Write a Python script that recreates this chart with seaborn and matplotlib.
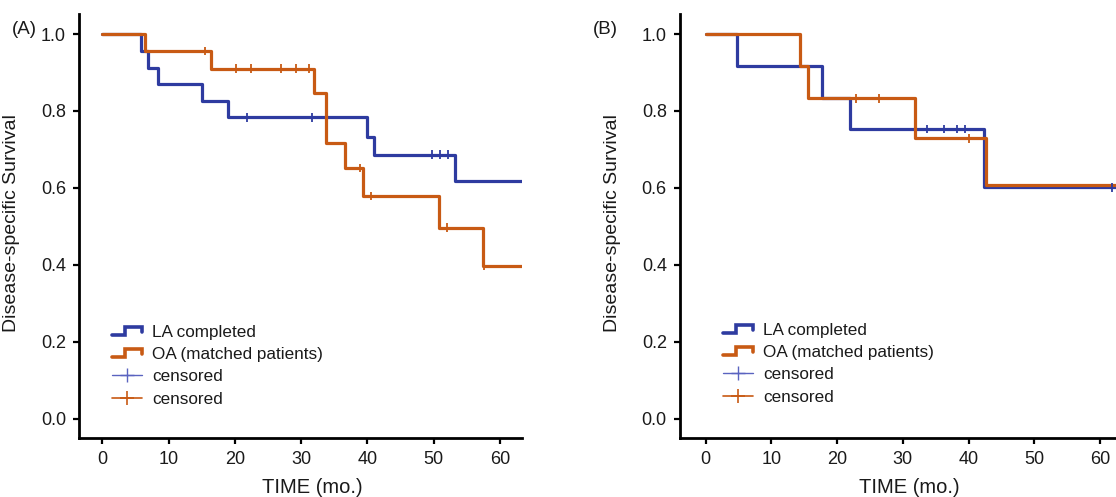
import numpy as np
import pandas as pd
import matplotlib
matplotlib.use("Agg")
import matplotlib.pyplot as plt
from matplotlib.lines import Line2D
from matplotlib.legend_handler import HandlerBase
import seaborn as sns

# Kaplan-Meier step data (time in months, survival)
groups = ["LA completed", "OA (matched patients)"]
colors = ["#2E3BA0", "#C85A14"]

# panel A
a_la_time = [0, 5.8, 6.9, 8.4, 15.1, 18.9, 40.0, 41.0, 53.3, 63.3]
a_la_surv = [1.0, 0.955, 0.912, 0.869, 0.827, 0.783, 0.733, 0.686, 0.617, 0.617]
a_la_cens = [21.8, 31.6, 49.8, 51.0, 52.2]
a_oa_time = [0, 6.4, 16.4, 31.9, 33.7, 36.6, 39.3, 50.8, 57.4, 63.3]
a_oa_surv = [1.0, 0.956, 0.910, 0.847, 0.717, 0.652, 0.579, 0.497, 0.398, 0.398]
a_oa_cens = [15.5, 20.2, 22.4, 26.9, 29.2, 31.2, 38.9, 40.6, 52.1, 57.6]

# panel B
b_la_time = [0, 4.7, 17.7, 21.9, 42.4, 63.5]
b_la_surv = [1.0, 0.917, 0.833, 0.753, 0.602, 0.602]
b_la_cens = [33.7, 36.2, 38.2, 39.5, 61.8]
b_oa_time = [0, 14.4, 15.5, 31.8, 42.7, 64.0]
b_oa_surv = [1.0, 0.917, 0.833, 0.729, 0.608, 0.608]
b_oa_cens = [22.9, 26.4, 40.0]


def step_value(times, surv, t):
    idx = np.searchsorted(times, t, side="right") - 1
    return np.array(surv)[idx]


def panel_frames(curves):
    lines, marks = [], []
    for name, (t, s, c) in zip(groups, curves):
        lines.append(pd.DataFrame({"time": t, "surv": s, "group": name}))
        marks.append(pd.DataFrame({"time": c, "surv": step_value(t, s, c), "group": name}))
    return pd.concat(lines), pd.concat(marks)


class StepHandler(HandlerBase):
    # little step icon like the one in the original legend
    def create_artists(self, legend, orig_handle, xdescent, ydescent,
                       width, height, fontsize, trans):
        xs = np.array([0, 0.42, 0.42, 1.0, 1.0]) * width - xdescent
        ys = np.array([0.2, 0.2, 0.85, 0.85, 0.45]) * height - ydescent
        ln = Line2D(xs, ys, color=orig_handle.get_color(),
                    lw=orig_handle.get_linewidth(), transform=trans,
                    solid_joinstyle="miter")
        return [ln]


sns.set_style("ticks")
plt.rcParams["font.family"] = ["Liberation Sans", "DejaVu Sans"]

fig = plt.figure(figsize=(11.16, 4.97), dpi=100)
axA = fig.add_axes([79.3 / 1116, 59 / 497, 442.4 / 1116, 424 / 497])
axB = fig.add_axes([680 / 1116, 59 / 497, 441 / 1116, 424 / 497])

panels = [
    (axA, [(a_la_time, a_la_surv, a_la_cens), (a_oa_time, a_oa_surv, a_oa_cens)],
     (-3.47, 63.3), "(A)", 12, (112, 325), 0.527),
    (axB, [(b_la_time, b_la_surv, b_la_cens), (b_oa_time, b_oa_surv, b_oa_cens)],
     (-3.9, 63.2), "(B)", 593, (723, 323), 0.519),
]

pal = dict(zip(groups, colors))
txt = "#1a1a1a"

for ax, curves, xl, tag, tag_x, leg_xy, xlab_x in panels:
    df_line, df_cens = panel_frames(curves)
    sns.lineplot(data=df_line, x="time", y="surv", hue="group", hue_order=groups,
                 palette=pal, drawstyle="steps-post", estimator=None, sort=False,
                 linewidth=2.3, legend=False, ax=ax)
    sns.scatterplot(data=df_cens, x="time", y="surv", hue="group", hue_order=groups,
                    palette=pal, marker="|", s=40, linewidth=1.3, legend=False,
                    ax=ax, zorder=5)

    ax.set_xlim(*xl)
    ax.set_ylim(-0.05, 1.052)
    ax.set_xticks(range(0, 61, 10))
    ax.set_yticks([0.0, 0.2, 0.4, 0.6, 0.8, 1.0])
    ax.set_yticklabels(["0.0", "0.2", "0.4", "0.6", "0.8", "1.0"])
    for side in ["top", "right"]:
        ax.spines[side].set_visible(False)
    for side in ["left", "bottom"]:
        ax.spines[side].set_linewidth(2)
        ax.spines[side].set_color("black")
    ax.tick_params(axis="both", direction="out", length=4.5, width=1.6,
                   color="black", labelsize=13, labelcolor=txt, pad=5)

    ax.set_xlabel("TIME (mo.)", fontsize=14.5, color=txt)
    ax.xaxis.set_label_coords(xlab_x, -0.116)
    ax.xaxis.label.set_va("center")
    ax.set_ylabel("Disease-specific Survival", fontsize=14, color=txt)
    ax.yaxis.set_label_coords(-0.133, 0.506)

    fig.text(tag_x / 1116, 1 - 30 / 497, tag, fontsize=13.5, color=txt,
             ha="left", va="center")

    handles = [
        Line2D([], [], color=colors[0], lw=2.6),
        Line2D([], [], color=colors[1], lw=2.6),
        Line2D([], [], color="#5A63C0", lw=1, marker="+", ms=10, mew=1),
        Line2D([], [], color=colors[1], lw=1.2, marker="+", ms=10, mew=1.2),
    ]
    labels = ["LA completed", "OA (matched patients)", "censored", "censored"]
    leg = ax.legend(handles, labels, loc="upper left",
                    bbox_to_anchor=(leg_xy[0] / 1116, 1 - leg_xy[1] / 497),
                    bbox_transform=fig.transFigure, frameon=False, fontsize=12.3,
                    handlelength=1.75, handletextpad=0.6, labelspacing=0.42,
                    borderpad=0, borderaxespad=0,
                    handler_map={handles[0]: StepHandler(), handles[1]: StepHandler()})
    for t in leg.get_texts():
        t.set_color(txt)

fig.savefig("out.png", dpi=100)
